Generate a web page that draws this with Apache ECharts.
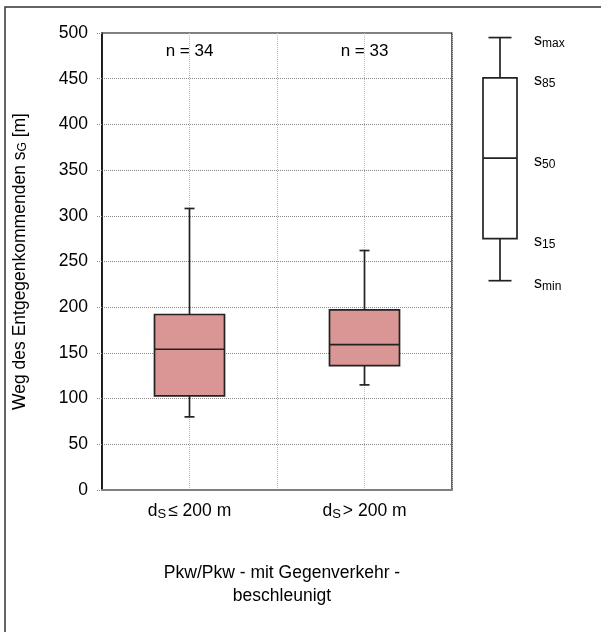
<!DOCTYPE html>
<html>
<head>
<meta charset="utf-8">
<script src="https://cdn.jsdelivr.net/npm/echarts@6/dist/echarts.min.js"></script>
<style>
  html, body { margin: 0; padding: 0; background: #fff; }
  #chart-panel { width: 601px; height: 632px; }
</style>
</head>
<body>
<div id="chart-panel"></div>
<script>
// Kategorien und Werte (min, s15, s50, s85, max)
const categories = ["≤ 200 m", "> 200 m"]
const nLabels = ["n = 34", "n = 33"]
const boxData = [
  [80, 103, 154, 192, 308],
  [115, 136, 159, 197, 262]
]
const yTicks = { min: 0, max: 500, interval: 50 }
// Legendenbox (schematisch)
const legendSample = [229, 275, 363, 451, 495]
const legendLabels = ["min", "15", "50", "85", "max"]

const font = "Liberation Sans, Arial, sans-serif"
const boxFill = "#d99694"
const boxLine = "#222"

const chart = echarts.init(document.getElementById("chart-panel"), null, { renderer: "canvas" })

const renderBox = (capHalf, withLabels) => (params, api) => {
  const idx = api.value(0)
  const v = [api.value(1), api.value(2), api.value(3), api.value(4), api.value(5)]
  const p = v.map((d) => api.coord([idx, d]))
  const x = p[0][0]
  const halfW = api.size([1, 0])[0] * (withLabels ? 0.5 : 0.2)
  const lineStyle = { stroke: boxLine, lineWidth: 1.7 }
  const children = [
    { type: "line", shape: { x1: x, y1: p[4][1], x2: x, y2: p[3][1] }, style: lineStyle },
    { type: "line", shape: { x1: x, y1: p[1][1], x2: x, y2: p[0][1] }, style: lineStyle },
    { type: "line", shape: { x1: x - capHalf, y1: p[4][1], x2: x + capHalf, y2: p[4][1] }, style: lineStyle },
    { type: "line", shape: { x1: x - capHalf, y1: p[0][1], x2: x + capHalf, y2: p[0][1] }, style: lineStyle },
    {
      type: "rect",
      shape: { x: x - halfW, y: p[3][1], width: halfW * 2, height: p[1][1] - p[3][1] },
      style: { fill: withLabels ? "#fff" : boxFill, stroke: boxLine, lineWidth: 1.7 }
    },
    { type: "line", shape: { x1: x - halfW, y1: p[2][1], x2: x + halfW, y2: p[2][1] }, style: lineStyle }
  ]
  if (withLabels) {
    legendLabels.forEach((lab, i) => {
      children.push({
        type: "text",
        x: x + halfW + 17,
        y: p[i][1] + 3,
        style: {
          text: "{s|s}{sub|" + lab + "}",
          verticalAlign: "middle",
          rich: {
            s: { fontSize: 16, fontFamily: font, fill: "#000" },
            sub: { fontSize: 12, fontFamily: font, fill: "#000", padding: [6, 0, 0, 0] }
          }
        }
      })
    })
  }
  return { type: "group", children }
}

const option = {
  animation: false,
  backgroundColor: "#fff",
  title: {
    text: "Pkw/Pkw - mit Gegenverkehr -\nbeschleunigt",
    left: 277,
    top: 557,
    textAlign: "center",
    textStyle: { fontSize: 17.5, fontWeight: "normal", fontFamily: font, color: "#000", lineHeight: 23 }
  },
  graphic: [
    {
      type: "rect",
      shape: { x: 5, y: 7, width: 700, height: 700 },
      style: { fill: "none", stroke: "#333", lineWidth: 1.5 },
      silent: true
    }
  ],
  grid: [
    { left: 102, right: 149, top: 33, bottom: 142, show: true, borderColor: "#000", borderWidth: 1.2 },
    { left: 483, width: 34, top: 33, bottom: 142 }
  ],
  xAxis: [
    {
      type: "category",
      gridIndex: 0,
      data: categories,
      boundaryGap: true,
      axisLine: { lineStyle: { color: "#808080", width: 2 } },
      axisTick: { length: 4, lineStyle: { color: "#808080" } },
      splitLine: { show: false },
      axisLabel: {
        margin: 11,
        formatter: (v) => "{d|d}{sub|S}{t|" + v + "}",
        rich: {
          d: { fontSize: 17.5, fontFamily: font, color: "#000" },
          sub: { fontSize: 13, fontFamily: font, color: "#000", padding: [7, 2, 0, 0] },
          t: { fontSize: 17.5, fontFamily: font, color: "#000" }
        }
      }
    },
    {
      type: "category",
      gridIndex: 0,
      position: "top",
      data: nLabels,
      boundaryGap: true,
      axisLine: { show: false },
      axisTick: { show: false },
      axisLabel: { inside: true, margin: 10, fontSize: 17, fontFamily: font, color: "#000" }
    },
    {
      type: "value",
      gridIndex: 0,
      min: 0,
      max: 4,
      interval: 1,
      axisLine: { show: false },
      axisTick: { show: false },
      axisLabel: { show: false },
      splitLine: { show: true, lineStyle: { color: "#bdbdbd", type: "dotted", width: 1 } }
    },
    {
      type: "category",
      gridIndex: 1,
      data: ["legend"],
      show: false
    }
  ],
  yAxis: [
    {
      type: "value",
      gridIndex: 0,
      min: yTicks.min,
      max: yTicks.max,
      interval: yTicks.interval,
      name: "{t|Weg des Entgegenkommenden s}{sub|G}{t| [m]}",
      nameLocation: "middle",
      nameGap: 73,
      nameTextStyle: {
        rich: {
          t: { fontSize: 17.5, fontFamily: font, color: "#000" },
          sub: { fontSize: 12, fontFamily: font, color: "#000", padding: [6, 0, 0, 0] }
        }
      },
      axisLine: { show: true, lineStyle: { color: "#000", width: 1.5 } },
      axisTick: { show: true, length: 5, lineStyle: { color: "#888", type: "dotted" } },
      axisLabel: { fontSize: 17.5, fontFamily: font, color: "#000", margin: 14 },
      splitLine: { show: true, lineStyle: { color: "#888", type: "dotted", width: 1 } }
    },
    {
      type: "value",
      gridIndex: 1,
      min: yTicks.min,
      max: yTicks.max,
      show: false
    }
  ],
  series: [
    {
      type: "custom",
      xAxisIndex: 0,
      yAxisIndex: 0,
      renderItem: renderBox(5, false),
      data: boxData.map((d, i) => [i, ...d]),
      z: 5
    },
    {
      type: "custom",
      xAxisIndex: 3,
      yAxisIndex: 1,
      renderItem: renderBox(11.5, true),
      data: [[0, ...legendSample]],
      z: 5
    }
  ]
}

chart.setOption(option)
</script>
</body>
</html>
